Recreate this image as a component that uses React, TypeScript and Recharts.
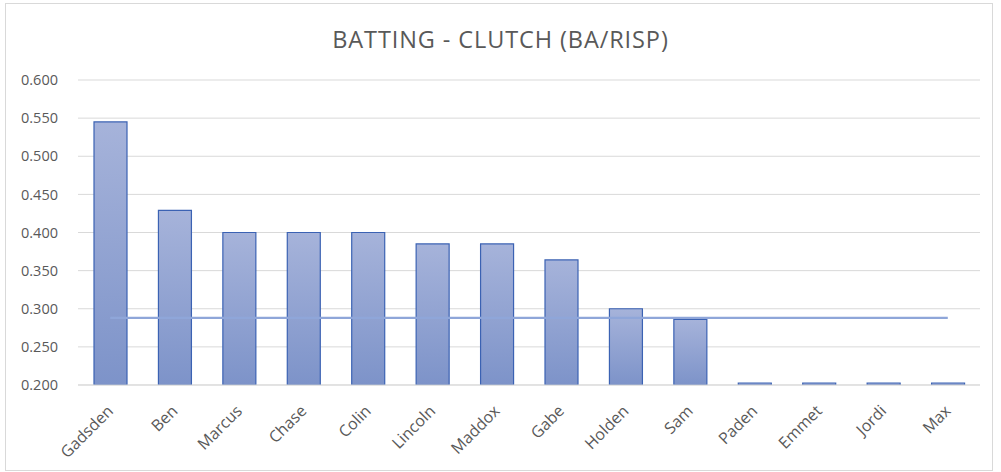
import { ComposedChart, Bar, Line, XAxis, YAxis, CartesianGrid } from "recharts";

const players = ["Gadsden", "Ben", "Marcus", "Chase", "Colin", "Lincoln", "Maddox", "Gabe", "Holden", "Sam", "Paden", "Emmet", "Jordi", "Max"];
const baRisp = [0.545, 0.429, 0.4, 0.4, 0.4, 0.385, 0.385, 0.364, 0.3, 0.286, 0, 0, 0, 0];
const teamAvg = 0.288;
const yTicks = [0.2, 0.25, 0.3, 0.35, 0.4, 0.45, 0.5, 0.55, 0.6];
const Y_MIN = 0.2;

const data = players.map((name, i) => ({
  name,
  ba: Math.max(baRisp[i], Y_MIN),
  avg: teamAvg,
}));

const FONT = "'Open Sans', 'Liberation Sans', sans-serif";
const GREY = "#595959";

function NameTick(props: any) {
  const { x, y, payload } = props;
  const tx = x + 4;
  const ty = y + 19;
  return (
    <text
      x={tx}
      y={ty}
      transform={`rotate(-45 ${tx} ${ty})`}
      textAnchor="end"
      fill={GREY}
      fontSize={16}
      fontFamily={FONT}
    >
      {payload.value}
    </text>
  );
}

export default function App() {
  return (
    <div style={{ position: "absolute", left: 0, top: 0, width: 1001, height: 472, background: "#fff" }}>
      <div
        style={{
          position: "absolute",
          left: 5,
          top: 3,
          width: 986,
          height: 466,
          border: "1px solid #d9d9d9",
        }}
      />
      <div
        style={{
          position: "absolute",
          left: 0,
          width: 1001,
          top: 23,
          textAlign: "center",
          fontFamily: FONT,
          fontSize: 23.5,
          color: GREY,
          letterSpacing: 0.9,
        }}
      >
        BATTING - CLUTCH (BA/RISP)
      </div>
      <ComposedChart
        width={1001}
        height={472}
        data={data}
        margin={{ top: 80, right: 21, bottom: 0, left: 0 }}
        style={{ position: "absolute", left: 0, top: 0 }}
      >
        <defs>
          <linearGradient id="barFill" x1="0" y1="0" x2="0" y2="1">
            <stop offset="0%" stopColor="#a6b3da" />
            <stop offset="100%" stopColor="#7d93c9" />
          </linearGradient>
        </defs>
        <CartesianGrid vertical={false} stroke="#d9d9d9" strokeWidth={1} />
        <XAxis
          dataKey="name"
          tick={<NameTick />}
          tickLine={false}
          axisLine={{ stroke: "#d9d9d9" }}
          interval={0}
          height={87}
        />
        <YAxis
          domain={[0.2, 0.6]}
          ticks={yTicks}
          allowDataOverflow
          tickFormatter={(v: number) => v.toFixed(3)}
          tick={{ fill: GREY, fontSize: 14.5, fontFamily: FONT }}
          tickLine={false}
          axisLine={false}
          width={78}
          tickMargin={14}
        />
        <Line
          dataKey="avg"
          type="linear"
          stroke="#8fa6d9"
          strokeWidth={2.2}
          dot={false}
          activeDot={false}
          isAnimationActive={false}
        />
        <Bar
          dataKey="ba"
          barSize={33}
          minPointSize={2}
          fill="url(#barFill)"
          stroke="#3b62b3"
          strokeWidth={1.2}
          isAnimationActive={false}
        />
      </ComposedChart>
    </div>
  );
}
